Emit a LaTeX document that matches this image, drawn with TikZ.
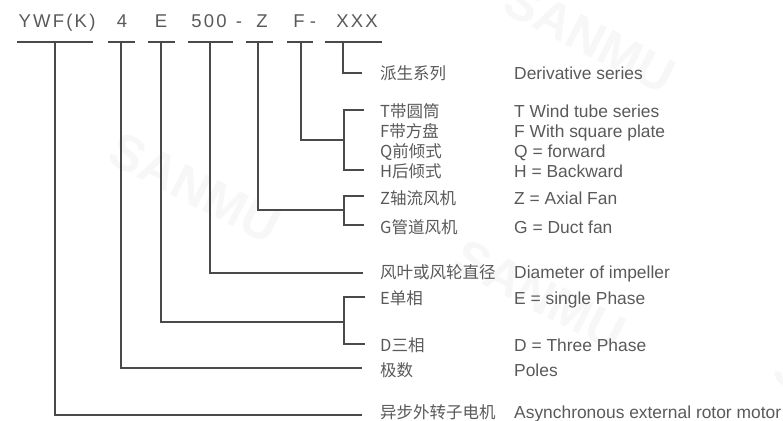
\documentclass[tikz,border=0pt]{standalone}
\usepackage{fontspec}
\setmainfont{Liberation Sans}
\newfontfamily\cjk{Noto Sans CJK SC}
\newfontfamily\hdr[LetterSpace=12]{Liberation Sans}
\definecolor{lncol}{HTML}{4A4A4A}
\definecolor{tx}{HTML}{5A5A5A}
\definecolor{wm}{HTML}{F7F7F7}
\begin{document}
\begin{tikzpicture}[x=1pt,y=-1pt,
  ln/.style={draw=lncol,line width=1.3pt},
  hd/.style={anchor=base,inner sep=0pt,text=tx,font=\hdr\fontsize{18.5}{20}\selectfont},
  cn/.style={anchor=base west,inner sep=0pt,text=tx,font=\cjk\fontsize{16.5}{18}\selectfont},
  en/.style={anchor=base west,inner sep=0pt,text=tx,font=\fontsize{17.4}{19}\selectfont},
  wmk/.style={text=wm,font=\bfseries\fontsize{50}{52}\selectfont,rotate=-27,inner sep=0pt}]
\fill[white] (0,0) rectangle (783,420);
\useasboundingbox (0,0) rectangle (783,420);
% watermarks
\begin{scope}
\clip (0,0) rectangle (783,420);
\node[wmk] (w1) at (590,38) {SANMU};
\node[wmk] (w2) at (195,188) {SANMU};
\node[wmk] (w3) at (540,295) {SANMU};
\node[wmk] (w4) at (860,405) {SANMU};
\end{scope}
% header
\node[hd] (h1) at (57,28) {YWF(K)};
\node[hd] (h2) at (122,28) {4};
\node[hd] (h3) at (161,28) {E};
\node[hd] (h4) at (209,28) {500};
\node[hd] (d1) at (239,28) {-};
\node[hd] (h5) at (262,28) {Z};
\node[hd] (h6) at (299,28) {F};
\node[hd] (d2) at (313,28) {-};
\node[hd] (h7) at (357,28) {XXX};
% underlines
\draw[ln] (17,42) coordinate (u1a) -- (93,42) coordinate (u1b);
\draw[ln] (108,42) coordinate (u2a) -- (135,42) coordinate (u2b);
\draw[ln] (148,42) coordinate (u3a) -- (175,42) coordinate (u3b);
\draw[ln] (188,42) coordinate (u4a) -- (233,42) coordinate (u4b);
\draw[ln] (246,42) coordinate (u5a) -- (273,42) coordinate (u5b);
\draw[ln] (287,42) coordinate (u6a) -- (313,42) coordinate (u6b);
\draw[ln] (325,42) coordinate (u7a) -- (382,42) coordinate (u7b);
% stems
\coordinate (s1) at (55,42);
\coordinate (s2) at (121,42);
\coordinate (s3) at (161,42);
\coordinate (s4) at (210,42);
\coordinate (s5) at (258,42);
\coordinate (s6) at (301,42);
\coordinate (s7) at (343,42);
% labels
\node[cn] (c1) at (380,79) {派生系列};
\node[en] (e1) at (514,79) {Derivative series};
\node[cn] (c2) at (380,117) {T带圆筒};
\node[en] (e2) at (514,117) {T Wind tube series};
\node[cn] (c3) at (380,137) {F带方盘};
\node[en] (e3) at (514,137) {F With square plate};
\node[cn] (c4) at (380,157) {Q前倾式};
\node[en] (e4) at (514,157) {Q = forward};
\node[cn] (c5) at (380,177) {H后倾式};
\node[en] (e5) at (514,177) {H = Backward};
\node[cn] (c6) at (380,204) {Z轴流风机};
\node[en] (e6) at (514,204) {Z = Axial Fan};
\node[cn] (c7) at (380,233) {G管道风机};
\node[en] (e7) at (514,233) {G = Duct fan};
\node[cn] (c8) at (380,278) {风叶或风轮直径};
\node[en] (e8) at (514,278) {Diameter of impeller};
\node[cn] (c9) at (380,304) {E单相};
\node[en] (e9) at (514,304) {E = single Phase};
\node[cn] (c10) at (380,351) {D三相};
\node[en] (e10) at (514,351) {D = Three Phase};
\node[cn] (c11) at (380,376) {极数};
\node[en] (e11) at (514,376) {Poles};
\node[cn] (c12) at (380,418) {异步外转子电机};
\node[en] (e12) at (514,418) {Asynchronous external rotor motor};
% line ends and brackets
\coordinate (k1) at (362,73);
\coordinate (j2) at (344,140);
\coordinate (b2t) at (344,110); \coordinate (b2b) at (344,170);
\coordinate (t2t) at (364,110); \coordinate (t2b) at (364,170);
\coordinate (j3) at (344,210);
\coordinate (b3t) at (344,196); \coordinate (b3b) at (344,225);
\coordinate (t3t) at (364,196); \coordinate (t3b) at (364,225);
\coordinate (k4) at (363,273);
\coordinate (j5) at (344,322);
\coordinate (b5t) at (344,297); \coordinate (b5b) at (344,344);
\coordinate (t5t) at (365,297); \coordinate (t5b) at (365,344);
\coordinate (k6) at (362,368);
\coordinate (k7) at (362,415);
% connectors
\draw[ln] (s7) |- (k1);
\draw[ln] (s6) |- (j2);
\draw[ln] (t2t) -- (b2t) -- (b2b) -- (t2b);
\draw[ln] (s5) |- (j3);
\draw[ln] (t3t) -- (b3t) -- (b3b) -- (t3b);
\draw[ln] (s4) |- (k4);
\draw[ln] (s3) |- (j5);
\draw[ln] (t5t) -- (b5t) -- (b5b) -- (t5b);
\draw[ln] (s2) |- (k6);
\draw[ln] (s1) |- (k7);
\end{tikzpicture}
\end{document}
